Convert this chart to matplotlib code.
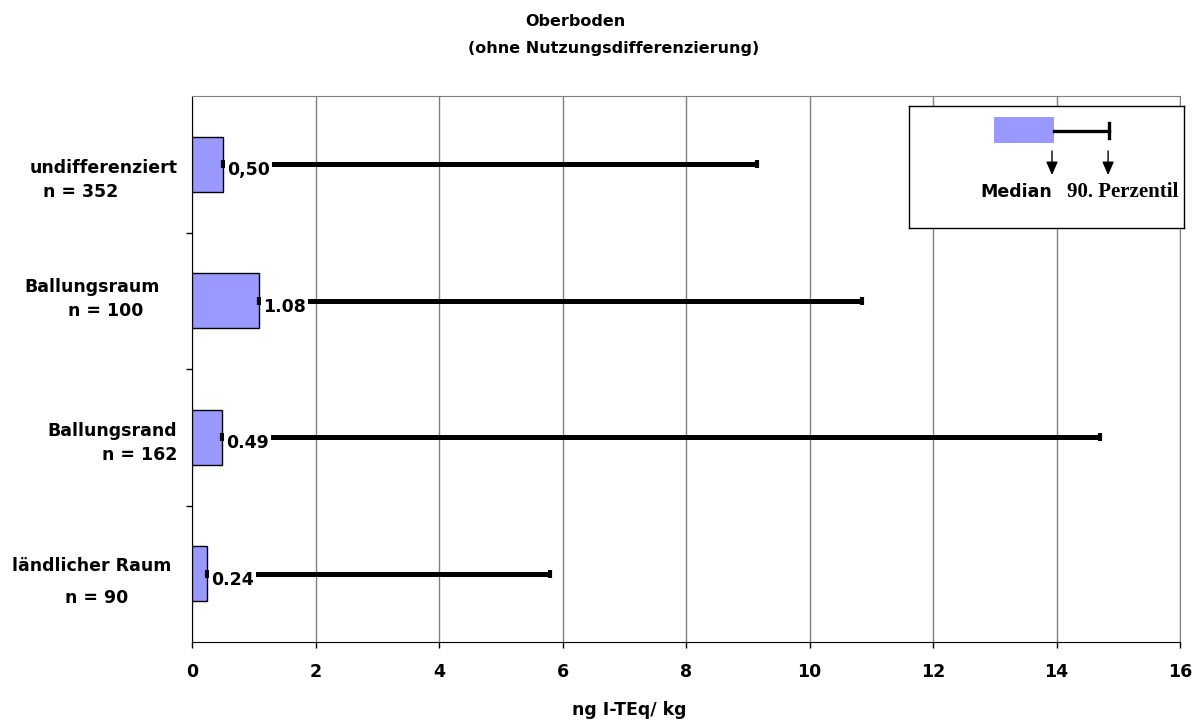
import matplotlib
matplotlib.use('Agg')
import matplotlib.pyplot as plt
from matplotlib.patches import Rectangle

plt.rcParams['font.family'] = 'DejaVu Sans'
plt.rcParams['font.weight'] = 'bold'

# Werte (ng I-TEq/kg)
gruppen = ['undifferenziert', 'Ballungsraum', 'Ballungsrand', 'ländlicher Raum']
n_werte = [352, 100, 162, 90]
median = [0.50, 1.08, 0.49, 0.24]
perz90 = [9.15, 10.85, 14.7, 5.8]
median_txt = ['0,50', '1.08', '0.49', '0.24']
xticks = [0, 2, 4, 6, 8, 10, 12, 14, 16]

# Lage der Gruppenbeschriftung (Pixel relativ zu Achse/Kategoriemitte)
name_off = [(-88.5, -3.75), (-99.5, 13.75), (-79.5, 6.25), (-100, 7.75)]
n_off = [(-111, -27.75), (-86.5, -10.25), (-52.5, -17.75), (-95, -24.25)]

W, H, DPI = 1197, 720, 100
px = 72.0 / DPI

fig = plt.figure(figsize=(W / DPI, H / DPI), dpi=DPI)
ax = fig.add_axes([192 / W, 1 - 642 / H, 988 / W, 546 / H])

ypos = list(range(len(gruppen)))
ax.barh(ypos, median, height=0.4, color='#9999ff', edgecolor='black',
        linewidth=1, zorder=3)
ax.errorbar(median, ypos, xerr=[[0] * 4, [p - m for p, m in zip(perz90, median)]],
            fmt='none', ecolor='black', elinewidth=3.6, capsize=3,
            capthick=3, zorder=4)

for i in ypos:
    ax.annotate(median_txt[i], xy=(median[i], i), xytext=(4 * px, -6 * px),
                textcoords='offset points', ha='left', va='center',
                fontsize=12.5, fontweight='bold', zorder=5,
                bbox=dict(boxstyle='square,pad=0.12', fc='white', ec='none'))
    ax.annotate(gruppen[i], xy=(0, i), xytext=(name_off[i][0] * px, name_off[i][1] * px),
                textcoords='offset points', ha='center', va='center',
                fontsize=12.5, fontweight='bold', annotation_clip=False)
    ax.annotate('n = %d' % n_werte[i], xy=(0, i),
                xytext=(n_off[i][0] * px, n_off[i][1] * px),
                textcoords='offset points', ha='center', va='center',
                fontsize=12.5, fontweight='bold', annotation_clip=False)

ax.set_xlim(0, 16)
ax.set_ylim(3.5, -0.5)
ax.set_xticks(xticks)
ax.set_xticklabels([str(t) for t in xticks], fontsize=12.5, fontweight='bold')
ax.set_yticks([0.5, 1.5, 2.5])
ax.set_yticklabels([])
ax.tick_params(axis='both', direction='out', length=4, width=1, color='black')
ax.tick_params(axis='x', pad=11)
ax.xaxis.grid(True, color='#808080', linewidth=1)
ax.set_axisbelow(True)
for s in ['top', 'right']:
    ax.spines[s].set_color('#808080')
for s in ['left', 'bottom']:
    ax.spines[s].set_color('black')

fig.text(575 / W, 1 - 22 / H, 'Oberboden', ha='center', va='center',
         fontsize=11.5, fontweight='bold')
fig.text(614 / W, 1 - 48 / H, '(ohne Nutzungsdifferenzierung)', ha='center',
         va='center', fontsize=11.5, fontweight='bold')
fig.text(629 / W, 1 - 710 / H, 'ng I-TEq/ kg', ha='center', va='center',
         fontsize=12.5, fontweight='bold')

# Legende als eigene kleine Achse
lg = fig.add_axes([909 / W, 1 - 228 / H, 275 / W, 122 / H])
lg.set_xlim(0, 1)
lg.set_ylim(0, 1)
lg.set_xticks([])
lg.set_yticks([])
for s in lg.spines.values():
    s.set_color('black')
    s.set_linewidth(1)
lg.add_patch(Rectangle((0.309, 0.697), 0.218, 0.213, facecolor='#9999ff',
                       edgecolor='none'))
lg.plot([0.527, 0.727], [0.795, 0.795], color='black', linewidth=2.4)
lg.plot([0.727, 0.727], [0.738, 0.861], color='black', linewidth=2.4)
for xa in [0.52, 0.724]:
    lg.annotate('', xy=(xa, 0.434), xytext=(xa, 0.631),
                arrowprops=dict(arrowstyle='-|>,head_width=0.35,head_length=0.8',
                                color='black', linewidth=1, shrinkA=0, shrinkB=0))
lg.text(0.389, 0.295, 'Median', ha='center', va='center', fontsize=12.5,
        fontweight='bold')
lg.text(0.575, 0.295, '90. Perzentil', ha='left', va='center', fontsize=15,
        fontweight='bold', family='Liberation Serif', clip_on=False)

fig.savefig('out.png', dpi=DPI)
